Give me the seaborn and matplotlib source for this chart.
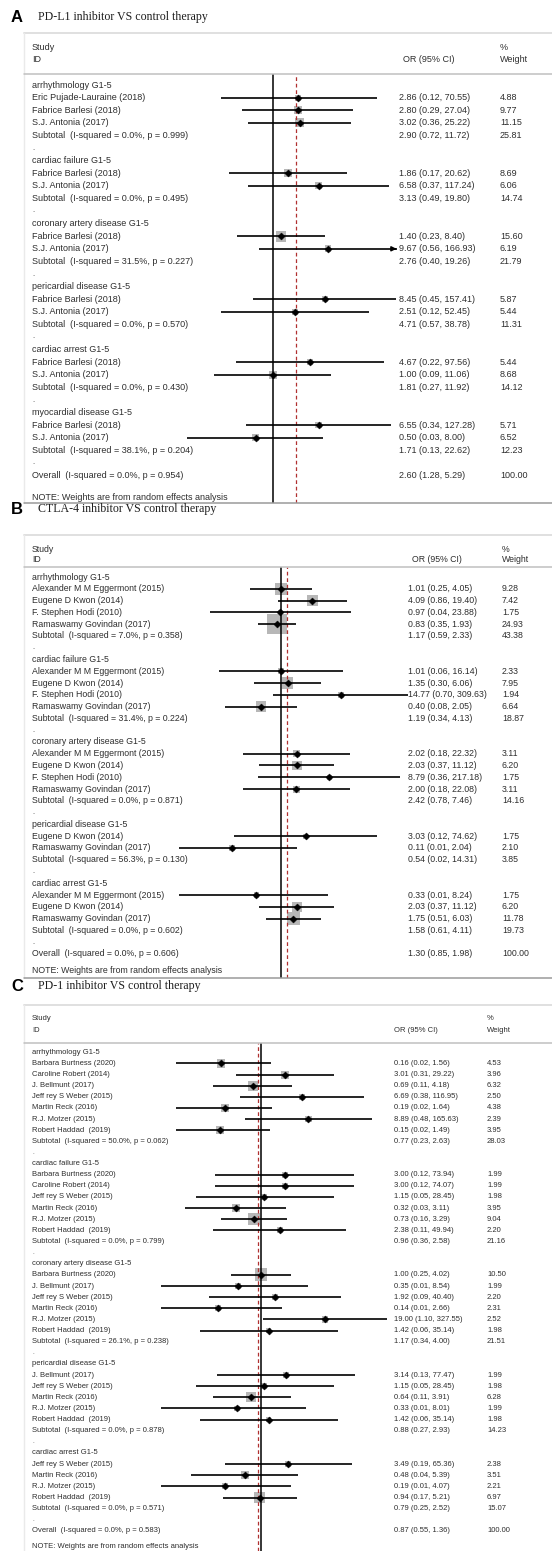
import numpy as np
import matplotlib
matplotlib.use("Agg")
import matplotlib.pyplot as plt
import matplotlib.transforms as mtrans
from matplotlib.lines import Line2D
import seaborn as sns

sns.set_theme(style="white")
plt.rcParams["font.family"] = ["Liberation Sans", "DejaVu Sans"]

W, H, DPI = 552, 1551, 100

# ---------------- Panel A: PD-L1 inhibitor ----------------
a_title = "PD-L1 inhibitor VS control therapy"
a_groups = ["arrhythmology G1-5", "cardiac failure G1-5", "coronary artery disease G1-5",
            "pericardial disease G1-5", "cardiac arrest G1-5", "myocardial disease G1-5"]
a_grp = [0, 0, 0, 1, 1, 2, 2, 3, 3, 4, 4, 5, 5]
a_study = ["Eric Pujade-Lauraine (2018)", "Fabrice Barlesi (2018)", "S.J. Antonia (2017)",
           "Fabrice Barlesi (2018)", "S.J. Antonia (2017)",
           "Fabrice Barlesi (2018)", "S.J. Antonia (2017)",
           "Fabrice Barlesi (2018)", "S.J. Antonia (2017)",
           "Fabrice Barlesi (2018)", "S.J. Antonia (2017)",
           "Fabrice Barlesi (2018)", "S.J. Antonia (2017)"]
a_or = [2.86, 2.80, 3.02, 1.86, 6.58, 1.40, 9.67, 8.45, 2.51, 4.67, 1.00, 6.55, 0.50]
a_lo = [0.12, 0.29, 0.36, 0.17, 0.37, 0.23, 0.56, 0.45, 0.12, 0.22, 0.09, 0.34, 0.03]
a_hi = [70.55, 27.04, 25.22, 20.62, 117.24, 8.40, 166.93, 157.41, 52.45, 97.56, 11.06, 127.28, 8.00]
a_wt = [4.88, 9.77, 11.15, 8.69, 6.06, 15.60, 6.19, 5.87, 5.44, 5.44, 8.68, 5.71, 6.52]
a_sub_het = ["I-squared = 0.0%, p = 0.999", "I-squared = 0.0%, p = 0.495", "I-squared = 31.5%, p = 0.227",
             "I-squared = 0.0%, p = 0.570", "I-squared = 0.0%, p = 0.430", "I-squared = 38.1%, p = 0.204"]
a_sub_or = [2.90, 3.13, 2.76, 4.71, 1.81, 1.71]
a_sub_lo = [0.72, 0.49, 0.40, 0.57, 0.27, 0.13]
a_sub_hi = [11.72, 19.80, 19.26, 38.78, 11.92, 22.62]
a_sub_wt = [25.81, 14.74, 21.79, 11.31, 14.12, 12.23]
a_all_het = "I-squared = 0.0%, p = 0.954"
a_all_or, a_all_lo, a_all_hi, a_all_wt = 2.60, 1.28, 5.29, 100.00

# ---------------- Panel B: CTLA-4 inhibitor ----------------
b_title = "CTLA-4 inhibitor VS control therapy"
b_groups = ["arrhythmology G1-5", "cardiac failure G1-5", "coronary artery disease G1-5",
            "pericardial disease G1-5", "cardiac arrest G1-5"]
b_grp = [0, 0, 0, 0, 1, 1, 1, 1, 2, 2, 2, 2, 3, 3, 4, 4, 4]
b_study = ["Alexander M M Eggermont (2015)", "Eugene D Kwon (2014)", "F. Stephen Hodi (2010)", "Ramaswamy Govindan (2017)",
           "Alexander M M Eggermont (2015)", "Eugene D Kwon (2014)", "F. Stephen Hodi (2010)", "Ramaswamy Govindan (2017)",
           "Alexander M M Eggermont (2015)", "Eugene D Kwon (2014)", "F. Stephen Hodi (2010)", "Ramaswamy Govindan (2017)",
           "Eugene D Kwon (2014)", "Ramaswamy Govindan (2017)",
           "Alexander M M Eggermont (2015)", "Eugene D Kwon (2014)", "Ramaswamy Govindan (2017)"]
b_or = [1.01, 4.09, 0.97, 0.83, 1.01, 1.35, 14.77, 0.40, 2.02, 2.03, 8.79, 2.00, 3.03, 0.11, 0.33, 2.03, 1.75]
b_lo = [0.25, 0.86, 0.04, 0.35, 0.06, 0.30, 0.70, 0.08, 0.18, 0.37, 0.36, 0.18, 0.12, 0.01, 0.01, 0.37, 0.51]
b_hi = [4.05, 19.40, 23.88, 1.93, 16.14, 6.06, 309.63, 2.05, 22.32, 11.12, 217.18, 22.08, 74.62, 2.04, 8.24, 11.12, 6.03]
b_wt = [9.28, 7.42, 1.75, 24.93, 2.33, 7.95, 1.94, 6.64, 3.11, 6.20, 1.75, 3.11, 1.75, 2.10, 1.75, 6.20, 11.78]
b_sub_het = ["I-squared = 7.0%, p = 0.358", "I-squared = 31.4%, p = 0.224", "I-squared = 0.0%, p = 0.871",
             "I-squared = 56.3%, p = 0.130", "I-squared = 0.0%, p = 0.602"]
b_sub_or = [1.17, 1.19, 2.42, 0.54, 1.58]
b_sub_lo = [0.59, 0.34, 0.78, 0.02, 0.61]
b_sub_hi = [2.33, 4.13, 7.46, 14.31, 4.11]
b_sub_wt = [43.38, 18.87, 14.16, 3.85, 19.73]
b_all_het = "I-squared = 0.0%, p = 0.606"
b_all_or, b_all_lo, b_all_hi, b_all_wt = 1.30, 0.85, 1.98, 100.00

# ---------------- Panel C: PD-1 inhibitor ----------------
c_title = "PD-1 inhibitor VS control therapy"
c_groups = ["arrhythmology G1-5", "cardiac failure G1-5", "coronary artery disease G1-5",
            "pericardial disease G1-5", "cardiac arrest G1-5"]
c_grp = [0] * 7 + [1] * 6 + [2] * 6 + [3] * 5 + [4] * 4
c_study = ["Barbara Burtness (2020)", "Caroline Robert (2014)", "J. Bellmunt (2017)", "Jeff rey S Weber (2015)",
           "Martin Reck (2016)", "R.J. Motzer (2015)", "Robert Haddad  (2019)",
           "Barbara Burtness (2020)", "Caroline Robert (2014)", "Jeff rey S Weber (2015)", "Martin Reck (2016)",
           "R.J. Motzer (2015)", "Robert Haddad  (2019)",
           "Barbara Burtness (2020)", "J. Bellmunt (2017)", "Jeff rey S Weber (2015)", "Martin Reck (2016)",
           "R.J. Motzer (2015)", "Robert Haddad  (2019)",
           "J. Bellmunt (2017)", "Jeff rey S Weber (2015)", "Martin Reck (2016)", "R.J. Motzer (2015)",
           "Robert Haddad  (2019)",
           "Jeff rey S Weber (2015)", "Martin Reck (2016)", "R.J. Motzer (2015)", "Robert Haddad  (2019)"]
c_or = [0.16, 3.01, 0.69, 6.69, 0.19, 8.89, 0.15,
        3.00, 3.00, 1.15, 0.32, 0.73, 2.38,
        1.00, 0.35, 1.92, 0.14, 19.00, 1.42,
        3.14, 1.15, 0.64, 0.33, 1.42,
        3.49, 0.48, 0.19, 0.94]
c_lo = [0.02, 0.31, 0.11, 0.38, 0.02, 0.48, 0.02,
        0.12, 0.12, 0.05, 0.03, 0.16, 0.11,
        0.25, 0.01, 0.09, 0.01, 1.10, 0.06,
        0.13, 0.05, 0.11, 0.01, 0.06,
        0.19, 0.04, 0.01, 0.17]
c_hi = [1.56, 29.22, 4.18, 116.95, 1.64, 165.63, 1.49,
        73.94, 74.07, 28.45, 3.11, 3.29, 49.94,
        4.02, 8.54, 40.40, 2.66, 327.55, 35.14,
        77.47, 28.45, 3.91, 8.01, 35.14,
        65.36, 5.39, 4.07, 5.21]
c_wt = [4.53, 3.96, 6.32, 2.50, 4.38, 2.39, 3.95,
        1.99, 1.99, 1.98, 3.95, 9.04, 2.20,
        10.50, 1.99, 2.20, 2.31, 2.52, 1.98,
        1.99, 1.98, 6.28, 1.99, 1.98,
        2.38, 3.51, 2.21, 6.97]
c_sub_het = ["I-squared = 50.0%, p = 0.062", "I-squared = 0.0%, p = 0.799", "I-squared = 26.1%, p = 0.238",
             "I-squared = 0.0%, p = 0.878", "I-squared = 0.0%, p = 0.571"]
c_sub_or = [0.77, 0.96, 1.17, 0.88, 0.79]
c_sub_lo = [0.23, 0.36, 0.34, 0.27, 0.25]
c_sub_hi = [2.63, 2.58, 4.00, 2.93, 2.52]
c_sub_wt = [28.03, 21.16, 21.51, 14.23, 15.07]
c_all_het = "I-squared = 0.0%, p = 0.583"
c_all_or, c_all_lo, c_all_hi, c_all_wt = 0.87, 0.55, 1.36, 100.00


def ci_text(o, l, h):
    return f"{o:.2f} ({l:.2f}, {h:.2f})"


def build_rows(groups, grp, study, or_, lo, hi, wt, sub_het, sub_or, sub_lo, sub_hi, sub_wt,
               all_het, all_or, all_lo, all_hi, all_wt):
    rows = []  # (kind, label, or, lo, hi, wt)
    for g, gname in enumerate(groups):
        rows.append(("head", gname, None, None, None, None))
        for i in range(len(study)):
            if grp[i] == g:
                rows.append(("study", study[i], or_[i], lo[i], hi[i], wt[i]))
        rows.append(("sub", f"Subtotal  ({sub_het[g]})", sub_or[g], sub_lo[g], sub_hi[g], sub_wt[g]))
        rows.append(("blank", ".", None, None, None, None))
    rows.append(("all", f"Overall  ({all_het})", all_or, all_lo, all_hi, all_wt))
    return rows


fig = plt.figure(figsize=(W / DPI, H / DPI), dpi=DPI)
fig.patch.set_facecolor("white")

TXT = "#2e2e2e"


def fy(py):
    return 1 - py / H


def draw_panel(letter, title, rows, all_or, lay):
    fs = lay["fs"]
    # panel letter and title
    fig.text(11 / W, fy(lay["title_y"]), letter, fontsize=12, fontweight="bold",
             va="center", ha="left", color="black")
    fig.text(38 / W, fy(lay["title_y"]), title, fontsize=8.6, family=["Liberation Serif", "DejaVu Serif"],
             va="center", ha="left", color="#1e1e1e")
    # frame of the table
    x0 = 24 / W
    fig.add_artist(Line2D([x0, 1], [fy(lay["box_top"])] * 2, color="#e0e0e0", lw=1.4))
    fig.add_artist(Line2D([x0, x0], [fy(lay["box_top"]), fy(lay["bottom"])], color="#eaeaea", lw=1.0))
    fig.add_artist(Line2D([x0, 1], [fy(lay["sep"])] * 2, color="#c0c0c0", lw=1.1))
    if lay["bottom"] < H - 1:
        fig.add_artist(Line2D([x0, 1], [fy(lay["bottom"])] * 2, color="#9a9a9a", lw=1.1))
    # header
    hk = dict(fontsize=fs, va="center", ha="left", color=TXT)
    fig.text(lay["x_left"] / W, fy(lay["study_y"]), "Study", **hk)
    fig.text(lay["x_left"] / W, fy(lay["id_y"]), "ID", **hk)
    fig.text(lay["x_orh"] / W, fy(lay["id_y"]), "OR (95% CI)", **hk)
    fig.text(lay["x_wt"] / W, fy(lay["study_y"]), "%", **hk)
    fig.text(lay["x_wt"] / W, fy(lay["id_y"]), "Weight", **hk)
    fig.text(lay["x_left"] / W, fy(lay["note_y"]), "NOTE: Weights are from random effects analysis", **hk)

    # plotting axes: full width, from header separator to panel bottom
    ax = fig.add_axes([0, fy(lay["bottom"]), 1, (lay["bottom"] - lay["sep"]) / H])
    c, ppl = lay["center"], lay["ppl"]
    step, r0 = lay["step"], lay["row0"]
    tr = mtrans.blended_transform_factory(ax.transAxes, ax.transData)

    ys, ors, los, his, wts = [], [], [], [], []
    for i, (kind, label, o, l, h, w) in enumerate(rows):
        ax.text(lay["x_left"] / W, i, label, transform=tr, fontsize=fs if kind != "blank" else fs - 1,
                va="center", ha="left", color=TXT, clip_on=False)
        if kind in ("study", "sub", "all"):
            ax.text(lay["x_or"] / W, i, ci_text(o, l, h), transform=tr, fontsize=fs,
                    va="center", ha="left", color=TXT, clip_on=False)
            ax.text(lay["x_wt"] / W, i, f"{w:.2f}", transform=tr, fontsize=fs,
                    va="center", ha="left", color=TXT, clip_on=False)
        if kind == "study":
            ys.append(i); ors.append(o); los.append(l); his.append(h); wts.append(w)

    ys, ors, los, his, wts = map(np.array, (ys, ors, los, his, wts))

    # weight boxes: area proportional to study weight
    k = (lay["k"] * 0.72) ** 2
    wmax = wts.max()
    sns.scatterplot(x=ors, y=ys, size=wts, sizes=(0, k * wmax), size_norm=(0, wmax),
                    marker="s", color="#b7b7b7", edgecolor="none", linewidth=0,
                    legend=False, ax=ax, zorder=1)

    clip = lay["clip"]
    hi_draw = np.minimum(his, clip) if clip else his
    ax.hlines(ys, los, hi_draw, color="black", lw=1.2, zorder=3)
    if clip:
        for y, h in zip(ys, his):
            if h > clip:
                ax.annotate("", xy=(clip, y), xytext=(clip * 0.93, y),
                            arrowprops=dict(arrowstyle="-|>", color="black", lw=1.1,
                                            mutation_scale=7, shrinkA=0, shrinkB=0))

    sns.scatterplot(x=ors, y=ys, marker="D", s=13, color="black", edgecolor="black",
                    linewidth=0.3, legend=False, ax=ax, zorder=4)

    ax.axvline(1.0, color="black", lw=1.1, zorder=2)
    ax.axvline(all_or, color="#b03030", lw=0.9, ls=(0, (3.0, 2.2)), zorder=2)

    ax.set_xscale("log")
    ax.set_xlim(np.exp(-c / ppl), np.exp((W - c) / ppl))
    ax.set_ylim((lay["bottom"] - r0) / step, (lay["sep"] - r0) / step)
    ax.axis("off")


rows_a = build_rows(a_groups, a_grp, a_study, a_or, a_lo, a_hi, a_wt, a_sub_het, a_sub_or, a_sub_lo,
                    a_sub_hi, a_sub_wt, a_all_het, a_all_or, a_all_lo, a_all_hi, a_all_wt)
rows_b = build_rows(b_groups, b_grp, b_study, b_or, b_lo, b_hi, b_wt, b_sub_het, b_sub_or, b_sub_lo,
                    b_sub_hi, b_sub_wt, b_all_het, b_all_or, b_all_lo, b_all_hi, b_all_wt)
rows_c = build_rows(c_groups, c_grp, c_study, c_or, c_lo, c_hi, c_wt, c_sub_het, c_sub_or, c_sub_lo,
                    c_sub_hi, c_sub_wt, c_all_het, c_all_or, c_all_lo, c_all_hi, c_all_wt)

lay_a = dict(title_y=17, box_top=33, study_y=47, id_y=60, sep=74, row0=85, step=12.6, bottom=503,
             note_y=497, x_left=32, x_or=399, x_orh=403, x_wt=500, center=272.7, ppl=24.4,
             k=2.7, fs=6.5, clip=160)
lay_b = dict(title_y=509, box_top=535, study_y=549, id_y=560, sep=567, row0=577, step=11.78, bottom=978,
             note_y=971, x_left=32, x_or=408, x_orh=412, x_wt=502, center=281, ppl=22.2,
             k=4.0, fs=6.3, clip=None)
lay_c = dict(title_y=986, box_top=1005, study_y=1019, id_y=1030, sep=1043, row0=1052.3, step=11.13,
             bottom=1551, note_y=1546.5, x_left=32, x_or=394, x_orh=394, x_wt=487, center=261, ppl=21.7,
             k=4.0, fs=5.5, clip=None)

draw_panel("A", a_title, rows_a, a_all_or, lay_a)
draw_panel("B", b_title, rows_b, b_all_or, lay_b)
draw_panel("C", c_title, rows_c, c_all_or, lay_c)

fig.savefig("out.png", dpi=DPI, facecolor="white")
